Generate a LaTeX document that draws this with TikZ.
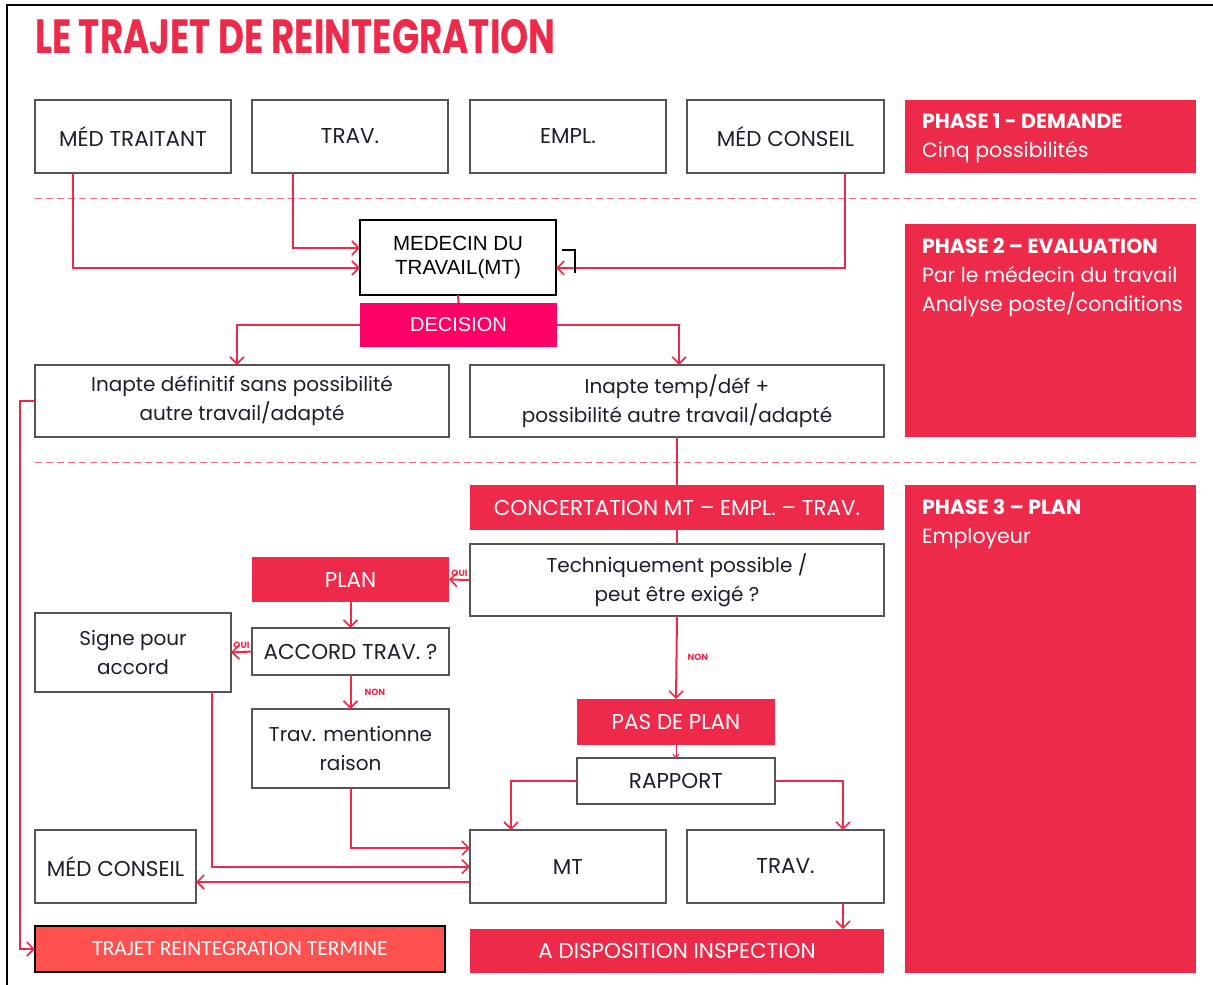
\documentclass[tikz,border=0pt]{standalone}
\usepackage{fontspec}
\setmainfont{Poppins}
\newfontfamily\arialf{Liberation Sans}
\newfontfamily\calibf{Carlito}
\usepackage{xcolor}
\usetikzlibrary{arrows.meta,positioning,calc}

\definecolor{phred}{RGB}{238,42,74}
\definecolor{decpink}{RGB}{255,0,102}
\definecolor{fincoral}{RGB}{255,80,80}
\definecolor{txtdark}{RGB}{30,30,45}
\definecolor{boxgrey}{RGB}{85,85,85}

\begin{document}
\begin{tikzpicture}[x=1pt,y=-1pt,
  every node/.style={inner sep=0pt,outer sep=0pt},
  wbox/.style={draw=boxgrey,line width=1.5pt,fill=white,text=txtdark,align=center,
    font=\fontsize{20}{29}\selectfont},
  rbox/.style={fill=phred,text=white,align=center,font=\fontsize{21.5}{29}\selectfont},
  capsf/.style={font=\fontsize{21.5}{29}\selectfont},
  phbox/.style={fill=phred,minimum width=291,anchor=north west},
  phtxt/.style={text=white,align=left,anchor=north west,font=\fontsize{20.5}{29}\selectfont},
  conn/.style={draw=phred,line width=2pt,-{Straight Barb[length=7pt,width=14pt,line width=1.6pt]}},
  plain/.style={draw=phred,line width=2pt},
  lbl/.style={text=phred,font=\bfseries\fontsize{9}{10}\selectfont},
  sep/.style={draw=phred!70,line width=1pt,dash pattern=on 7pt off 4pt}]
  \useasboundingbox (0,0) rectangle (1213,985);
  % frame
  \draw[line width=2pt] (7,985) -- (7,5) -- (1213,5);
  % title
  \node[anchor=west,text=phred] (title) at (35,37)
    {\scalebox{0.745}[1]{\bfseries\fontsize{48}{50}\selectfont LE TRAJET DE REINTEGRATION}};

  % phase 1
  \node[wbox,capsf,minimum width=196,minimum height=73] (medtr) at (133,136.5) {MÉD TRAITANT};
  \node[wbox,capsf,minimum width=196,minimum height=73] (trav1) at (350,136.5) {TRAV.};
  \node[wbox,capsf,minimum width=196,minimum height=73] (empl) at (568,136.5) {EMPL.};
  \node[wbox,capsf,minimum width=197,minimum height=73] (medc1) at (785.5,136.5) {MÉD CONSEIL};
  \node[phbox,minimum height=73] (ph1) at (905,100) {};
  \node[phtxt] at ([xshift=17pt,yshift=-14pt]ph1.north west)
    {\bfseries PHASE 1 - DEMANDE\\Cinq possibilités};
  \draw[sep] (35,198) -- (1196,198);

  % phase 2
  \node[wbox,minimum width=196,minimum height=75,font=\arialf\fontsize{20.5}{24}\selectfont,text=black,draw=black]
    (mdt) at (458,257.5) {MEDECIN DU\\TRAVAIL(MT)};
  \node[fill=decpink,text=white,minimum width=197,minimum height=44,font=\arialf\fontsize{20}{22}\selectfont]
    (dec) at (458.5,325) {DECISION};
  \node[wbox,minimum width=414,minimum height=72] (indef) at (242,401)
    {Inapte définitif sans possibilité\\autre travail/adapté};
  \node[wbox,minimum width=414,minimum height=72] (intemp) at (677,401)
    {Inapte temp/déf +\\possibilité autre travail/adapté};
  \node[phbox,minimum height=213] (ph2) at (905,224) {};
  \node[phtxt] at ([xshift=17pt,yshift=-14pt]ph2.north west)
    {\textbf{PHASE 2 – EVALUATION}\\Par le médecin du travail\\Analyse poste/conditions};
  \draw[sep] (35,462) -- (1196,462);

  \draw[conn] ([xshift=-60pt]medtr.south) |- ([yshift=-10.5pt]mdt.west);
  \draw[conn] ([xshift=-57pt]trav1.south) |- ([yshift=9.5pt]mdt.west);
  \draw[conn] ([xshift=59.5pt]medc1.south) |- ([yshift=-10.5pt]mdt.east);
  \draw[line width=1.6pt] ([xshift=6pt,yshift=7.5pt]mdt.east) -- ++(13,0) -- ++(0,23);
  \draw[plain] (mdt.south) -- (dec.north);
  \draw[conn] (dec.west) -| ([xshift=-5pt]indef.north);
  \draw[conn] (dec.east) -| ([xshift=2pt]intemp.north);

  % phase 3
  \node[rbox,minimum width=414,minimum height=45] (conc) at (677,507.5)
    {CONCERTATION MT – EMPL. – TRAV.};
  \node[wbox,minimum width=414,minimum height=72] (tech) at (677,580)
    {Techniquement possible /\\peut être exigé ?};
  \node[rbox,minimum width=197,minimum height=45] (plan) at (350.5,579.5) {PLAN};
  \node[wbox,capsf,minimum width=197,minimum height=47] (accord) at (350.5,651.5) {ACCORD TRAV. ?};
  \node[wbox,minimum width=196,minimum height=79] (signe) at (133,652.5) {Signe pour\\accord};
  \node[wbox,minimum width=197,minimum height=79] (raison) at (350.5,748.5) {Trav. mentionne\\raison};
  \node[rbox,minimum width=198,minimum height=46] (pasplan) at (676,722) {PAS DE PLAN};
  \node[wbox,capsf,minimum width=198,minimum height=46] (rapport) at (676,781) {RAPPORT};
  \node[wbox,capsf,minimum width=196,minimum height=73] (mtb) at (568,866.5) {MT};
  \node[wbox,capsf,minimum width=197,minimum height=73] (travb) at (785.5,866.5) {TRAV.};
  \node[wbox,capsf,minimum width=161,minimum height=73] (medcb) at (115.5,866.5) {MÉD CONSEIL};
  \node[fill=fincoral,draw=black,line width=1.2pt,text=white,minimum width=410,minimum height=46,
    font=\calibf\fontsize{21.5}{22}\selectfont] (fin) at (240,949) {TRAJET REINTEGRATION TERMINE};
  \node[rbox,minimum width=414,minimum height=44] (dispo) at (677,951) {A DISPOSITION INSPECTION};
  \node[phbox,minimum height=488] (ph3) at (905,485) {};
  \node[phtxt] at ([xshift=17pt,yshift=-14pt]ph3.north west)
    {\textbf{PHASE 3 – PLAN}\\Employeur};

  \draw[plain] (intemp.south) -- (conc.north);
  \draw[plain] (conc.south) -- (tech.north);
  \draw[conn] (indef.west) -- ++(-15,0) |- (fin.west);
  \draw[conn] (tech.west) -- node[lbl,above=3pt]{OUI} (plan.east);
  \draw[conn] (plan.south) -- (accord.north);
  \draw[conn] (accord.west) -- node[lbl,above=3pt]{OUI} (signe.east);
  \draw[conn] (accord.south) -- node[lbl,right=14pt]{NON} (raison.north);
  \draw[conn] (tech.south) -- node[lbl,right=11pt]{NON} (pasplan.north);
  \draw[draw=phred,line width=1pt,-{Straight Barb[length=3pt,width=6pt]}] (pasplan.south) -- (rapport.north);
  \draw[conn] (rapport.west) -| ([xshift=-57pt]mtb.north);
  \draw[conn] (rapport.east) -| ([xshift=57.5pt]travb.north);
  \draw[conn] (raison.south) |- ([yshift=18.5pt]mtb.west);
  \draw[conn] ([xshift=79pt]signe.south) |- (mtb.west);
  \draw[conn] ([yshift=-15.5pt]mtb.west) -- ([yshift=-15.5pt]mtb.west -| medcb.east);
  \draw[conn] ([xshift=57.5pt]travb.south) -- ([xshift=57.5pt]travb.south |- dispo.north);
\end{tikzpicture}
\end{document}
